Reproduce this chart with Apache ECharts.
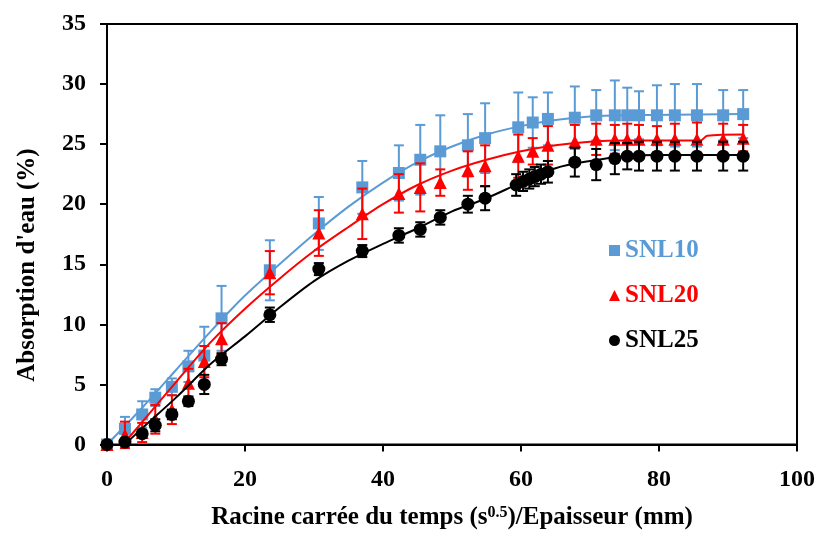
<!DOCTYPE html>
<html>
<head>
<meta charset="utf-8">
<script src="https://cdn.jsdelivr.net/npm/echarts@6/dist/echarts.min.js"></script>
<style>html,body{margin:0;padding:0;background:#fff}#c{width:820px;height:535px}</style>
</head>
<body>
<div id="c"></div>
<script>
// ---- Data ----
const timeX = [0,2.6,5.1,7.0,9.4,11.8,14.1,16.6,23.6,30.7,37.0,42.3,45.4,48.3,52.3,54.8,59.6,61.7,63.9,67.8,70.9,73.6,75.4,77.1,79.7,82.3,85.5,89.3,92.2];
const snl10 = [0,1.3,2.5,3.9,4.8,6.5,7.4,10.5,14.5,18.4,21.4,22.6,23.7,24.4,24.9,25.5,26.4,26.8,27.1,27.2,27.4,27.4,27.4,27.4,27.4,27.4,27.4,27.4,27.5];
const snl10Err = [0,1.0,1.1,0.7,0.7,1.3,2.4,2.7,2.5,2.2,2.2,2.3,2.9,3.0,2.6,2.9,2.9,2.1,2.2,2.6,2.1,2.9,2.3,2.0,2.5,2.6,2.6,2.1,2.0];
const snl20 = [0,0.8,1.0,2.1,2.9,5.1,6.9,8.8,14.3,17.6,19.2,20.9,21.4,21.8,22.8,23.2,24.0,24.4,24.9,25.2,25.4,25.4,25.4,25.4,25.4,25.4,25.4,25.4,25.5];
const snl20Err = [0,1.1,0.8,1.2,1.2,1.2,1.3,1.3,1.8,1.9,2.1,1.6,2.0,1.1,1.6,1.7,1.8,1.1,1.6,1.4,1.3,1.2,1.3,1.2,1.1,1.3,1.4,1.3,1.1];
const timeX25 = [0,2.6,5.1,7.0,9.4,11.8,14.1,16.6,23.6,30.7,37.0,42.3,45.4,48.3,52.3,54.8,59.3,60.3,61.2,62.0,62.9,63.9,67.8,70.9,73.6,75.4,77.1,79.7,82.3,85.5,89.3,92.2];
const snl25 = [0,0.2,0.9,1.6,2.5,3.6,5.0,7.1,10.8,14.6,16.1,17.4,17.9,18.9,20.0,20.5,21.6,21.9,22.1,22.3,22.5,22.7,23.5,23.3,23.8,24.0,24.0,24.0,24.0,24.0,24.0,24.0];
const snl25Err = [0,0.2,0.3,0.5,0.4,0.4,0.8,0.5,0.6,0.5,0.5,0.6,0.6,0.6,0.7,1.0,0.9,0.8,0.8,0.8,0.8,0.9,1.2,1.3,1.3,1.1,1.2,1.2,1.2,1.2,1.2,1.2];

// fitted model curves
const fitX10 = [0,5,10,15,20,25,30,35,40,45,50,55,60,65,70,75,92.2];
const fitY10 = [0,3.0,6.2,9.4,12.4,15.0,17.5,19.8,21.8,23.5,24.8,25.8,26.5,27.0,27.3,27.4,27.5];
const fitX20 = [2.3,5,10,15,20,25,30,35,40,45,50,55,60,65,70,75,86,87,92.2];
const fitY20 = [0,1.8,5.2,8.5,11.3,13.8,16.1,18.1,20.0,21.6,22.8,23.7,24.4,24.9,25.2,25.3,25.3,25.7,25.8];
const fitX25 = [2.6,5,10,15,20,25,30,35,40,45,50,55,60,65,70,75,80,92.2];
const fitY25 = [0,1.3,3.9,6.7,9.0,11.4,13.6,15.3,16.7,18.0,19.4,20.5,21.8,23.0,23.6,24.0,24.1,24.1];

const seriesNames = ['SNL10','SNL20','SNL25'];
const xTicks = [0,20,40,60,80,100];
const yTicks = [0,5,10,15,20,25,30,35];
const yTitle = "Absorption d'eau (%)";

const colors = ['#5B9BD5','#FF0000','#000000'];
const FONT = '"Liberation Serif","Times New Roman",serif';

function zip(a,b){return a.map((v,i)=>[v,b[i]]);}
function zip3(a,b,c){return a.map((v,i)=>[v,b[i],c[i]]);}

function errSeries(name,data,color,z){
  return {
    type:'custom', name:name, z:z, silent:true,
    data:data,
    renderItem:function(params,api){
      const x=api.value(0), y=api.value(1), e=api.value(2);
      if(!e) return null;
      const top=api.coord([x,y+e]), bot=api.coord([x,y-e]);
      const w=5;
      const st={stroke:color,lineWidth:2};
      return {type:'group',children:[
        {type:'line',shape:{x1:top[0],y1:top[1],x2:bot[0],y2:bot[1]},style:st},
        {type:'line',shape:{x1:top[0]-w,y1:top[1],x2:top[0]+w,y2:top[1]},style:st},
        {type:'line',shape:{x1:bot[0]-w,y1:bot[1],x2:bot[0]+w,y2:bot[1]},style:st}
      ]};
    }
  };
}

const pts = [zip(timeX,snl10), zip(timeX,snl20), zip(timeX25,snl25)];
const errs = [zip3(timeX,snl10,snl10Err), zip3(timeX,snl20,snl20Err), zip3(timeX25,snl25,snl25Err)];
const fits = [zip(fitX10,fitY10), zip(fitX20,fitY20), zip(fitX25,fitY25)];
const symbols = ['rect','triangle','circle'];
const symSizes = [12,13,13];

const series=[];
for(let i=0;i<3;i++){
  const z=2+i*3;
  series.push(errSeries(seriesNames[i]+'_err',errs[i],colors[i],z));
  series.push({type:'line',name:seriesNames[i]+'_fit',data:fits[i],smooth:0.3,showSymbol:false,z:z+1,
    lineStyle:{color:colors[i],width:2},silent:true});
  series.push({type:'scatter',name:seriesNames[i],data:pts[i],symbol:symbols[i],symbolSize:symSizes[i],z:z+2,
    itemStyle:{color:colors[i],opacity:1}});
}

const chart = echarts.init(document.getElementById('c'),null,{renderer:'canvas'});
chart.setOption({
  animation:false,
  backgroundColor:'#fff',
  grid:{left:107,right:23,top:24,bottom:83,show:true,borderColor:'#000',borderWidth:2,backgroundColor:'transparent'},
  legend:{
    orient:'vertical', left:604, top:233, itemGap:20, itemWidth:11, itemHeight:11,
    data:seriesNames.map((n,i)=>({name:n,icon:symbols[i],itemStyle:{color:colors[i]},
      textStyle:{color:colors[i],fontFamily:FONT,fontWeight:'bold',fontSize:25}})),
    textStyle:{fontFamily:FONT,fontWeight:'bold',fontSize:25},
    selectedMode:false
  },
  graphic:[{
    type:'text', left:13, top:'middle', silent:true,
    style:{text:yTitle, fill:'#000', font:'bold 25px '+FONT}
  }],
  xAxis:{
    type:'value', min:0, max:100, interval:20,
    axisLine:{show:true,lineStyle:{color:'#000',width:2}},
    axisTick:{show:true,length:7,lineStyle:{color:'#000',width:2}},
    splitLine:{show:false},
    axisLabel:{color:'#000',fontFamily:FONT,fontWeight:'bold',fontSize:24,margin:23,
      formatter:v=>xTicks.includes(v)?String(v):''},
    name:'{a|Racine carrée du temps (s}{s|0.5}{a|)/Epaisseur (mm)}',
    nameLocation:'middle', nameGap:60,
    nameTextStyle:{rich:{
      a:{fontFamily:FONT,fontWeight:'bold',fontSize:25,color:'#000'},
      s:{fontFamily:FONT,fontWeight:'bold',fontSize:16,color:'#000',verticalAlign:'top',padding:[0,0,10,0]}
    }}
  },
  yAxis:{
    type:'value', min:0, max:35, interval:5,
    axisLine:{show:true,lineStyle:{color:'#000',width:2}},
    axisTick:{show:true,length:7,lineStyle:{color:'#000',width:2}},
    splitLine:{show:false},
    axisLabel:{color:'#000',fontFamily:FONT,fontWeight:'bold',fontSize:24,margin:21,
      formatter:v=>yTicks.includes(v)?String(v):''}
  },
  series:series
});
// place the rotated y-axis title
chart.setOption({graphic:[{
  type:'text', x:28, y:265, rotation:Math.PI/2, left:null, top:null, silent:true,
  style:{text:yTitle, fill:'#000', font:'bold 25px '+FONT, align:'center', verticalAlign:'middle'}
}]}, {replaceMerge:['graphic']});
</script>
</body>
</html>
